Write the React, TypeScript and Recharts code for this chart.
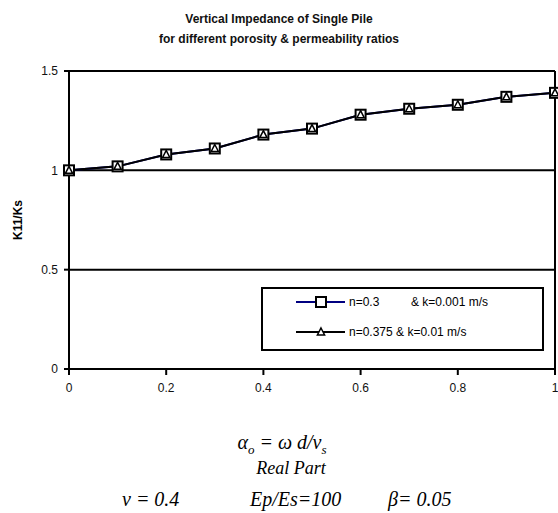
import React from 'react';
import { LineChart, Line, XAxis, YAxis, CartesianGrid, ReferenceLine } from 'recharts';

const alphaValues = [0, 0.1, 0.2, 0.3, 0.4, 0.5, 0.6, 0.7, 0.8, 0.9, 1.0];
const seriesSquare = [1.0, 1.02, 1.08, 1.11, 1.18, 1.21, 1.28, 1.31, 1.33, 1.37, 1.39];
const seriesTriangle = [1.0, 1.02, 1.08, 1.11, 1.18, 1.21, 1.28, 1.31, 1.33, 1.37, 1.39];
const xTicks = [0, 0.2, 0.4, 0.6, 0.8, 1];
const yTicks = [0, 0.5, 1, 1.5];
const nameSquareA = 'n=0.3';
const nameSquareB = '& k=0.001 m/s';
const nameTriangle = 'n=0.375 & k=0.01 m/s';

const data = alphaValues.map((a, i) => ({ a, sq: seriesSquare[i], tr: seriesTriangle[i] }));

const sans = 'Liberation Sans, Arial, sans-serif';
const serif = 'Liberation Serif, Times New Roman, serif';

const SquareDot = (props: any) => {
  const { cx, cy } = props;
  if (cx == null || cy == null) return null;
  return <rect x={cx - 5} y={cy - 5} width={10} height={10} fill="#fff" stroke="#000" strokeWidth={2} />;
};

const TriangleDot = (props: any) => {
  const { cx, cy } = props;
  if (cx == null || cy == null) return null;
  return (
    <polygon
      points={`${cx},${cy - 4} ${cx + 3.6},${cy + 3} ${cx - 3.6},${cy + 3}`}
      fill="#fff"
      stroke="#000"
      strokeWidth={1.5}
    />
  );
};

const LegendBox = () => (
  <svg width={283} height={64} style={{ display: 'block' }}>
    <rect x={1} y={1} width={281} height={62} fill="#fff" stroke="#000" strokeWidth={2} />
    <line x1={35} y1={15} x2={84} y2={15} stroke="#000080" strokeWidth={2} />
    <rect x={55} y={10} width={10} height={10} fill="#fff" stroke="#000" strokeWidth={2} />
    <text x={88} y={19} fontSize={12} fontFamily={sans} fill="#000">{nameSquareA}</text>
    <text x={150} y={19} fontSize={12} fontFamily={sans} fill="#000">{nameSquareB}</text>
    <line x1={35} y1={45} x2={84} y2={45} stroke="#000" strokeWidth={2} />
    <polygon points="60,41 63.6,48 56.4,48" fill="#fff" stroke="#000" strokeWidth={1.5} />
    <text x={88} y={49} fontSize={12} fontFamily={sans} fill="#000">{nameTriangle}</text>
  </svg>
);

const YLabel = () => (
  <text
    x={18}
    y={220}
    transform="rotate(-90 18 220)"
    textAnchor="middle"
    dominantBaseline="central"
    fontSize={12}
    fontWeight="bold"
    fontFamily={sans}
    fill="#000"
  >
    K11/Ks
  </text>
);

const fmt = (v: number) => String(v);

export default function App() {
  return (
    <div style={{ position: 'absolute', left: 0, top: 0, width: 558, height: 513, background: '#fff' }}>
      <div
        style={{
          position: 'absolute',
          left: 0,
          top: 9,
          width: 558,
          textAlign: 'center',
          fontFamily: sans,
          fontWeight: 'bold',
          fontSize: 12,
          lineHeight: '20px',
          color: '#111',
        }}
      >
        Vertical Impedance of Single Pile
        <br />
        for different porosity & permeability ratios
      </div>
      <LineChart
        width={558}
        height={513}
        data={data}
        margin={{ top: 71, right: 3, bottom: 114, left: 19 }}
      >
        <CartesianGrid horizontal={true} vertical={false} stroke="#000" strokeWidth={2} />
        <ReferenceLine x={1} stroke="#000" strokeWidth={2} />
        <ReferenceLine y={1.5} stroke="#000" strokeWidth={2} />
        <XAxis
          dataKey="a"
          type="number"
          domain={[0, 1]}
          ticks={xTicks}
          tickFormatter={fmt}
          height={30}
          stroke="#000"
          strokeWidth={2}
          tickSize={6}
          tickMargin={8}
          tick={{ fill: '#111', fontSize: 12, fontFamily: sans }}
          interval={0}
        />
        <YAxis
          type="number"
          domain={[0, 1.5]}
          ticks={yTicks}
          tickFormatter={fmt}
          width={50}
          stroke="#000"
          strokeWidth={2}
          tickSize={5}
          tickMargin={6}
          tick={{ fill: '#111', fontSize: 12, fontFamily: sans }}
          interval={0}
          label={<YLabel />}
        />
        <Line
          dataKey="sq"
          name={nameSquareA}
          stroke="#000080"
          strokeWidth={2}
          dot={<SquareDot />}
          activeDot={false}
          isAnimationActive={false}
        />
        <Line
          dataKey="tr"
          name={nameTriangle}
          stroke="#000"
          strokeWidth={2}
          dot={<TriangleDot />}
          activeDot={false}
          isAnimationActive={false}
        />
      </LineChart>
      <div style={{ position: 'absolute', left: 261, top: 287 }}>
        <LegendBox />
      </div>
      <div style={{ position: 'absolute', left: 0, top: 431, width: 558, fontFamily: serif, fontStyle: 'italic', fontSize: 20, lineHeight: '22px', color: '#000' }}>
        <div style={{ position: 'absolute', left: 0, width: 564, textAlign: 'center', top: 0, whiteSpace: 'pre' }}>
          α<sub style={{ fontSize: 13, lineHeight: 0 }}>o</sub> = ω d/v<sub style={{ fontSize: 13, lineHeight: 0 }}>s</sub>
        </div>
        <div style={{ position: 'absolute', left: 0, width: 582, textAlign: 'center', top: 27, fontSize: 18, lineHeight: '20px' }}>Real Part</div>
        <div style={{ position: 'absolute', left: 122, top: 57, whiteSpace: 'pre' }}>ν = 0.4</div>
        <div style={{ position: 'absolute', left: 250, top: 57, whiteSpace: 'pre' }}>Ep/Es=100</div>
        <div style={{ position: 'absolute', left: 388, top: 57, whiteSpace: 'pre' }}>β= 0.05</div>
      </div>
    </div>
  );
}
